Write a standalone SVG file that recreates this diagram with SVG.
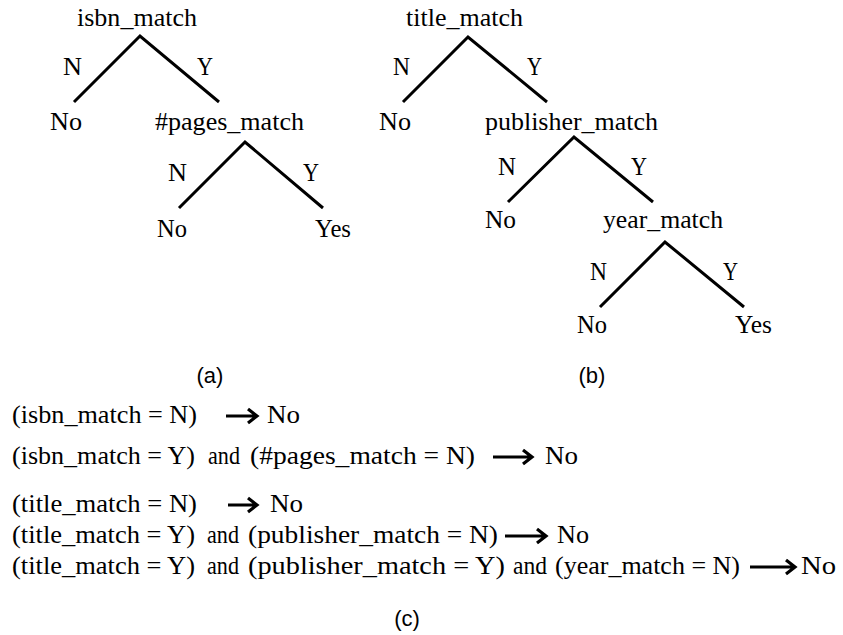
<svg xmlns="http://www.w3.org/2000/svg" width="843" height="635" viewBox="0 0 843 635">
<style>
.t{font-family:"Liberation Serif","Times New Roman",serif;font-size:25px;fill:#000}
.c{font-family:"Liberation Sans",Arial,sans-serif;font-size:22px;fill:#000}
.e{stroke:#000;stroke-width:3;fill:none;stroke-linecap:butt}
.ar{stroke:#000;stroke-width:3.2;fill:none}
</style>
<rect width="843" height="635" fill="#fff"/>
<g id="connectors">
<path class="e" d="M74,102 L140,36 L219,102"/>
<path class="e" d="M179,208 L245,142 L323,208"/>
<path class="e" d="M403,102 L468,37 L547,102"/>
<path class="e" d="M508,202 L574,137 L653,202"/>
<path class="e" d="M600,307 L665,242 L744,307"/>
</g>
<g id="tree-a">
<g id="a-isbn"><text class="t" x="77" y="26" textLength="120" lengthAdjust="spacingAndGlyphs">isbn_match</text></g>
<g id="a-n1"><text class="t" x="63" y="75" textLength="19" lengthAdjust="spacingAndGlyphs">N</text></g>
<g id="a-y1"><text class="t" x="197" y="75" textLength="16" lengthAdjust="spacingAndGlyphs">Y</text></g>
<g id="a-no1"><text class="t" x="50" y="130" textLength="32" lengthAdjust="spacingAndGlyphs">No</text></g>
<g id="a-pages"><text class="t" x="155" y="130" textLength="149" lengthAdjust="spacingAndGlyphs">#pages_match</text></g>
<g id="a-n2"><text class="t" x="168" y="181" textLength="19" lengthAdjust="spacingAndGlyphs">N</text></g>
<g id="a-y2"><text class="t" x="303" y="181" textLength="16" lengthAdjust="spacingAndGlyphs">Y</text></g>
<g id="a-no2"><text class="t" x="157" y="237" textLength="30" lengthAdjust="spacingAndGlyphs">No</text></g>
<g id="a-yes"><text class="t" x="315" y="237" textLength="36" lengthAdjust="spacingAndGlyphs">Yes</text></g>
</g>
<g id="tree-b">
<g id="b-title"><text class="t" x="406" y="26" textLength="117" lengthAdjust="spacingAndGlyphs">title_match</text></g>
<g id="b-n1"><text class="t" x="393" y="75" textLength="17" lengthAdjust="spacingAndGlyphs">N</text></g>
<g id="b-y1"><text class="t" x="527" y="75" textLength="15" lengthAdjust="spacingAndGlyphs">Y</text></g>
<g id="b-no1"><text class="t" x="379" y="130" textLength="32" lengthAdjust="spacingAndGlyphs">No</text></g>
<g id="b-pub"><text class="t" x="485" y="130" textLength="173" lengthAdjust="spacingAndGlyphs">publisher_match</text></g>
<g id="b-n2"><text class="t" x="498" y="175" textLength="18" lengthAdjust="spacingAndGlyphs">N</text></g>
<g id="b-y2"><text class="t" x="631" y="175" textLength="16" lengthAdjust="spacingAndGlyphs">Y</text></g>
<g id="b-no2"><text class="t" x="485" y="228" textLength="31" lengthAdjust="spacingAndGlyphs">No</text></g>
<g id="b-year"><text class="t" x="603" y="228" textLength="120" lengthAdjust="spacingAndGlyphs">year_match</text></g>
<g id="b-n3"><text class="t" x="590" y="280" textLength="17" lengthAdjust="spacingAndGlyphs">N</text></g>
<g id="b-y3"><text class="t" x="723" y="280" textLength="15" lengthAdjust="spacingAndGlyphs">Y</text></g>
<g id="b-no3"><text class="t" x="577" y="333" textLength="30" lengthAdjust="spacingAndGlyphs">No</text></g>
<g id="b-yes"><text class="t" x="735" y="333" textLength="37" lengthAdjust="spacingAndGlyphs">Yes</text></g>
</g>
<g id="captions">
<text class="c" x="210" y="383" text-anchor="middle">(a)</text>
<text class="c" x="592" y="383" text-anchor="middle">(b)</text>
<text class="c" x="407" y="626" text-anchor="middle">(c)</text>
</g>
<g id="rules">
<text class="t" x="12" y="423" textLength="185" lengthAdjust="spacingAndGlyphs">(isbn_match = N)</text>
<text class="t" x="267" y="423" textLength="33" lengthAdjust="spacingAndGlyphs">No</text>
<text class="t" x="12" y="464" textLength="183" lengthAdjust="spacingAndGlyphs">(isbn_match = Y)</text>
<text class="t" x="208" y="464" textLength="32" lengthAdjust="spacingAndGlyphs">and</text>
<text class="t" x="250" y="464" textLength="225" lengthAdjust="spacingAndGlyphs">(#pages_match = N)</text>
<text class="t" x="545" y="464" textLength="33" lengthAdjust="spacingAndGlyphs">No</text>
<text class="t" x="12" y="512" textLength="185" lengthAdjust="spacingAndGlyphs">(title_match = N)</text>
<text class="t" x="270" y="512" textLength="33" lengthAdjust="spacingAndGlyphs">No</text>
<text class="t" x="12" y="543" textLength="183" lengthAdjust="spacingAndGlyphs">(title_match = Y)</text>
<text class="t" x="207" y="543" textLength="32" lengthAdjust="spacingAndGlyphs">and</text>
<text class="t" x="248" y="543" textLength="250" lengthAdjust="spacingAndGlyphs">(publisher_match = N)</text>
<text class="t" x="557" y="543" textLength="32" lengthAdjust="spacingAndGlyphs">No</text>
<text class="t" x="12" y="574" textLength="183" lengthAdjust="spacingAndGlyphs">(title_match = Y)</text>
<text class="t" x="207" y="574" textLength="32" lengthAdjust="spacingAndGlyphs">and</text>
<text class="t" x="248" y="574" textLength="257" lengthAdjust="spacingAndGlyphs">(publisher_match = Y)</text>
<text class="t" x="513" y="574" textLength="34" lengthAdjust="spacingAndGlyphs">and</text>
<text class="t" x="555" y="574" textLength="185" lengthAdjust="spacingAndGlyphs">(year_match = N)</text>
<text class="t" x="801" y="574" textLength="35" lengthAdjust="spacingAndGlyphs">No</text>
</g>
<g id="arrows">
<path class="ar" d="M226,416 H256 M248,409 L257,416 L248,423"/>
<path class="ar" d="M493,457 H531 M523,450 L532,457 L523,464"/>
<path class="ar" d="M228,505 H256 M248,498 L257,505 L248,512"/>
<path class="ar" d="M505,536 H545 M537,529 L546,536 L537,543"/>
<path class="ar" d="M750,567 H794 M786,560 L795,567 L786,574"/>
</g>
</svg>
